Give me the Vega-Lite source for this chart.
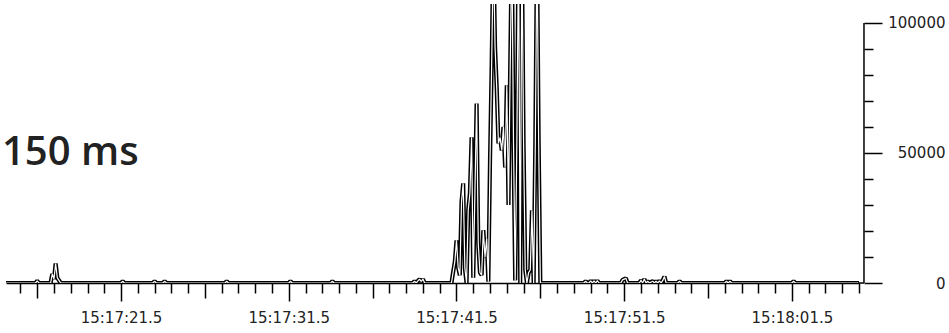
{
  "$schema": "https://vega.github.io/schema/vega-lite/v6.json",
  "width": 853,
  "height": 279,
  "autosize": {"type": "none"},
  "padding": {"left": 6, "top": 4, "right": 90, "bottom": 50},
  "background": "white",
  "config": {"view": {"stroke": null}},
  "datasets": {
    "series": [
      {"t": 14.64, "v": 0},
      {"t": 16.4, "v": 0}, {"t": 16.5, "v": 800}, {"t": 16.6, "v": 0},
      {"t": 17.3, "v": 0}, {"t": 17.4, "v": 3500}, {"t": 17.5, "v": 1500}, {"t": 17.6, "v": 7500}, {"t": 17.7, "v": 2000}, {"t": 17.8, "v": 1000}, {"t": 17.9, "v": 0},
      {"t": 21.5, "v": 0}, {"t": 21.6, "v": 700}, {"t": 21.7, "v": 0},
      {"t": 23.4, "v": 0}, {"t": 23.5, "v": 700}, {"t": 23.6, "v": 0},
      {"t": 24.0, "v": 0}, {"t": 24.1, "v": 700}, {"t": 24.2, "v": 0},
      {"t": 27.7, "v": 0}, {"t": 27.8, "v": 700}, {"t": 27.9, "v": 0},
      {"t": 31.5, "v": 0}, {"t": 31.6, "v": 700}, {"t": 31.7, "v": 0},
      {"t": 34.0, "v": 0}, {"t": 34.1, "v": 700}, {"t": 34.2, "v": 0},
      {"t": 38.9, "v": 0}, {"t": 39.0, "v": 700}, {"t": 39.1, "v": 0}, {"t": 39.2, "v": 800}, {"t": 39.3, "v": 1500}, {"t": 39.4, "v": 600}, {"t": 39.5, "v": 1500}, {"t": 39.6, "v": 0},
      {"t": 41.2, "v": 0}, {"t": 41.3, "v": 4200}, {"t": 41.4, "v": 8100}, {"t": 41.5, "v": 16400}, {"t": 41.6, "v": 6000}, {"t": 41.7, "v": 3000},
      {"t": 41.8, "v": 31200}, {"t": 41.9, "v": 38300}, {"t": 42.0, "v": 5700}, {"t": 42.1, "v": 0}, {"t": 42.2, "v": 28000}, {"t": 42.3, "v": 34500},
      {"t": 42.4, "v": 56000}, {"t": 42.5, "v": 2000}, {"t": 42.6, "v": 35000}, {"t": 42.7, "v": 69000}, {"t": 42.8, "v": 15000}, {"t": 42.9, "v": 4000},
      {"t": 43.0, "v": 3000}, {"t": 43.1, "v": 20300}, {"t": 43.2, "v": 10000}, {"t": 43.3, "v": 17200}, {"t": 43.4, "v": 500}, {"t": 43.5, "v": 47200},
      {"t": 43.6, "v": 85000}, {"t": 43.7, "v": 130000}, {"t": 43.8, "v": 90700}, {"t": 43.9, "v": 75000}, {"t": 44.0, "v": 53700}, {"t": 44.1, "v": 56000},
      {"t": 44.2, "v": 51000}, {"t": 44.3, "v": 60000}, {"t": 44.4, "v": 44500}, {"t": 44.5, "v": 76000}, {"t": 44.6, "v": 30000}, {"t": 44.7, "v": 81800},
      {"t": 44.8, "v": 130000}, {"t": 44.9, "v": 54000}, {"t": 45.0, "v": 1000}, {"t": 45.1, "v": 54000}, {"t": 45.2, "v": 130000}, {"t": 45.3, "v": 0},
      {"t": 45.4, "v": 130000}, {"t": 45.5, "v": 54000}, {"t": 45.6, "v": 5000}, {"t": 45.7, "v": 0}, {"t": 45.8, "v": 4000}, {"t": 45.9, "v": 5000},
      {"t": 46.0, "v": 28000}, {"t": 46.1, "v": 0}, {"t": 46.2, "v": 53700}, {"t": 46.3, "v": 130000}, {"t": 46.4, "v": 54000}, {"t": 46.5, "v": 0},
      {"t": 49.1, "v": 0}, {"t": 49.2, "v": 700}, {"t": 49.3, "v": 0}, {"t": 49.4, "v": 0}, {"t": 49.5, "v": 800}, {"t": 49.6, "v": 0}, {"t": 49.7, "v": 800}, {"t": 49.8, "v": 0}, {"t": 49.9, "v": 900}, {"t": 50.0, "v": 0},
      {"t": 51.3, "v": 0}, {"t": 51.4, "v": 1200}, {"t": 51.5, "v": 1500}, {"t": 51.6, "v": 1800}, {"t": 51.7, "v": 0},
      {"t": 52.4, "v": 0}, {"t": 52.5, "v": 1000}, {"t": 52.6, "v": 0}, {"t": 52.7, "v": 1500}, {"t": 52.8, "v": 0}, {"t": 52.9, "v": 700}, {"t": 53.0, "v": 0},
      {"t": 53.2, "v": 700}, {"t": 53.3, "v": 0}, {"t": 53.4, "v": 700}, {"t": 53.5, "v": 0}, {"t": 53.6, "v": 800}, {"t": 53.7, "v": 0}, {"t": 53.8, "v": 1000}, {"t": 53.9, "v": 2500}, {"t": 54.0, "v": 0},
      {"t": 54.7, "v": 0}, {"t": 54.8, "v": 700}, {"t": 54.9, "v": 0},
      {"t": 57.5, "v": 0}, {"t": 57.6, "v": 700}, {"t": 57.7, "v": 0}, {"t": 57.8, "v": 700}, {"t": 57.9, "v": 0},
      {"t": 61.5, "v": 0}, {"t": 61.6, "v": 700}, {"t": 61.7, "v": 0},
      {"t": 65.5, "v": 0}
    ],
    "note": [{"t": 14.4, "v": 45400, "label": "150 ms"}],
    "yline": [{"t": 65.797, "v": 0, "v2": 100000}],
    "zline": [{"t": 65.45, "t2": 65.8, "v": 0}]
  },
  "layer": [
    {
      "data": {"name": "series"},
      "mark": {"type": "line", "stroke": "black", "strokeWidth": 4.2, "strokeJoin": "bevel", "clip": true},
      "encoding": {
        "x": {
          "field": "t", "type": "quantitative",
          "scale": {"domain": [14.64, 65.5], "nice": false, "zero": false},
          "axis": {
            "title": null, "grid": false, "tickCount": 200,
            "values": [15.5,16.5,17.5,18.5,19.5,20.5,21.5,22.5,23.5,24.5,25.5,26.5,27.5,28.5,29.5,30.5,31.5,32.5,33.5,34.5,35.5,36.5,37.5,38.5,39.5,40.5,41.5,42.5,43.5,44.5,45.5,46.5,47.5,48.5,49.5,50.5,51.5,52.5,53.5,54.5,55.5,56.5,57.5,58.5,59.5,60.5,61.5,62.5,63.5,64.5,65.5],
            "domain": true, "domainColor": "black", "domainWidth": 1.5,
            "ticks": true, "tickColor": "black", "tickWidth": 1.5,
            "tickSize": {"expr": "datum.value % 10 == 1.5 ? 18 : (datum.value % 5 == 1.5 ? 15 : 10)"},
            "labelExpr": "datum.value % 10 == 1.5 ? (datum.value < 60 ? '15:17:' + format(datum.value, '04.1f') : '15:18:' + format(datum.value - 60, '04.1f')) : ''",
            "labelFont": "DejaVu Sans", "labelFontSize": 15, "labelColor": "#222",
            "labelPadding": 9, "labelOverlap": false, "labelFlush": false
          }
        },
        "y": {
          "field": "v", "type": "quantitative",
          "scale": {"domain": [0, 107300], "nice": false, "zero": true},
          "axis": {
            "orient": "right", "offset": 5, "title": null, "grid": false, "tickCount": 100,
            "values": [0,10000,20000,30000,40000,50000,60000,70000,80000,90000,100000],
            "domain": false,
            "tickColor": "black", "tickWidth": 1.5,
            "tickSize": {"expr": "datum.value % 50000 == 0 ? 18 : 9"},
            "labelExpr": "datum.value % 50000 == 0 ? '' + datum.value : ''",
            "labelAlign": "right", "labelPadding": 63,
            "labelFont": "DejaVu Sans", "labelFontSize": 15, "labelColor": "#222",
            "labelOverlap": false, "labelFlush": false
          }
        }
      }
    },
    {
      "data": {"name": "series"},
      "mark": {"type": "line", "stroke": "white", "strokeWidth": 1.2, "strokeJoin": "bevel", "clip": true},
      "encoding": {
        "x": {"field": "t", "type": "quantitative", "axis": {"title": null}},
        "y": {"field": "v", "type": "quantitative", "axis": {"title": null}}
      }
    },
    {
      "data": {"name": "yline"},
      "mark": {"type": "rule", "stroke": "black", "strokeWidth": 1.5, "clip": false},
      "encoding": {
        "x": {"field": "t", "type": "quantitative", "axis": {"title": null}},
        "y": {"field": "v", "type": "quantitative", "axis": {"title": null}},
        "y2": {"field": "v2"}
      }
    },
    {
      "data": {"name": "zline"},
      "mark": {"type": "rule", "stroke": "black", "strokeWidth": 1.5, "clip": false},
      "encoding": {
        "x": {"field": "t", "type": "quantitative", "axis": {"title": null}},
        "x2": {"field": "t2"},
        "y": {"field": "v", "type": "quantitative", "axis": {"title": null}}
      }
    },
    {
      "data": {"name": "note"},
      "mark": {"type": "text", "align": "left", "baseline": "alphabetic", "font": "Open Sans", "fontSize": 40, "fontWeight": 600, "color": "#222", "clip": false},
      "encoding": {
        "x": {"field": "t", "type": "quantitative", "axis": {"title": null}},
        "y": {"field": "v", "type": "quantitative", "axis": {"title": null}},
        "text": {"field": "label"}
      }
    }
  ]
}
